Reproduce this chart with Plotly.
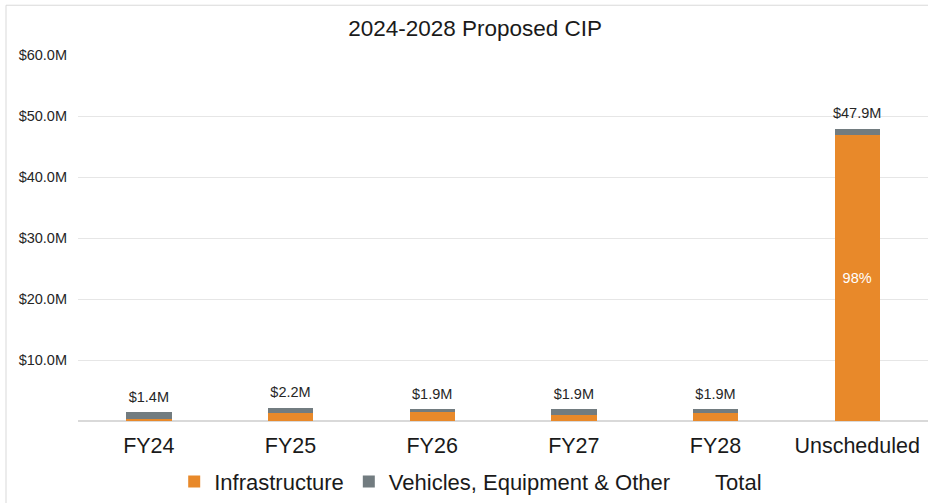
import plotly.graph_objects as go

categories = ["FY24", "FY25", "FY26", "FY27", "FY28", "Unscheduled"]
infrastructure = [0.3, 1.3, 1.4, 1.0, 1.3, 46.9]
vehicles = [1.1, 0.9, 0.5, 0.9, 0.6, 1.0]
totals = [1.4, 2.2, 1.9, 1.9, 1.9, 47.9]
total_labels = ["$1.4M", "$2.2M", "$1.9M", "$1.9M", "$1.9M", "$47.9M"]
infra_pct_labels = ["", "", "", "", "", "98%"]
y_ticks = [10, 20, 30, 40, 50, 60]
y_tick_labels = ["$10.0M", "$20.0M", "$30.0M", "$40.0M", "$50.0M", "$60.0M"]

ORANGE = "#E8892A"
GRAY = "#727C80"
FONT = "Liberation Sans, Arial, sans-serif"

fig = go.Figure()
fig.add_trace(go.Bar(
    x=categories, y=infrastructure, name="Infrastructure",
    marker=dict(color=ORANGE, line=dict(width=0)),
    text=infra_pct_labels, textposition="inside", insidetextanchor="middle",
    textangle=0, textfont=dict(color="white", size=14.5, family=FONT),
    hoverinfo="x+y",
))
fig.add_trace(go.Bar(
    x=categories, y=vehicles, name="Vehicles, Equipment & Other",
    marker=dict(color=GRAY, line=dict(width=0)),
    hoverinfo="x+y",
))
# Total: invisible line series (legend entry with no visible marker)
fig.add_trace(go.Scatter(
    x=categories, y=totals, name="Total", mode="lines",
    line=dict(color="rgba(0,0,0,0)", width=0),
    hoverinfo="skip",
))
fig.add_trace(go.Scatter(
    x=categories, y=totals, mode="markers+text", text=total_labels,
    textposition="top center", showlegend=False,
    marker=dict(size=10, color="rgba(0,0,0,0)"),
    textfont=dict(size=14.5, color="#262626", family=FONT),
    cliponaxis=False, hoverinfo="skip",
))

fig.update_layout(
    barmode="stack",
    bargap=0.68,
    width=928, height=503,
    margin=dict(l=78, r=0, t=55, b=80),
    paper_bgcolor="white", plot_bgcolor="white",
    font=dict(family=FONT, color="#262626"),
    title=dict(text="2024-2028 Proposed CIP", x=0.512, xanchor="center",
               y=0.945, yanchor="middle",
               font=dict(size=22.5, color="#1a1a1a", family=FONT)),
    legend=dict(orientation="h", x=0.462, xanchor="center", y=-0.166,
                yanchor="middle", font=dict(size=22, color="#1a1a1a", family=FONT),
                itemwidth=30, traceorder="normal"),
    xaxis=dict(tickfont=dict(size=21.5, color="#1a1a1a", family=FONT),
               showline=False, showgrid=False, ticks="", ticklabelstandoff=9),
    yaxis=dict(range=[0, 60], tickvals=y_ticks, ticktext=y_tick_labels,
               tickfont=dict(size=14.5, color="#262626", family=FONT),
               showgrid=True, gridcolor="#E6E6E6", gridwidth=1,
               zeroline=True, zerolinecolor="#D9D9D9", zerolinewidth=2,
               showline=False, ticks="", ticklabelstandoff=10),
    shapes=[
        dict(type="line", xref="paper", yref="paper", x0=-0.0847, x1=-0.0847,
             y0=1.136, y1=-0.3, line=dict(color="#D9D9D9", width=1)),
        dict(type="line", xref="paper", yref="paper", x0=-0.0847, x1=1.1,
             y0=1.136, y1=1.136, line=dict(color="#D9D9D9", width=1)),
    ],
)

fig.write_html("out.html")
